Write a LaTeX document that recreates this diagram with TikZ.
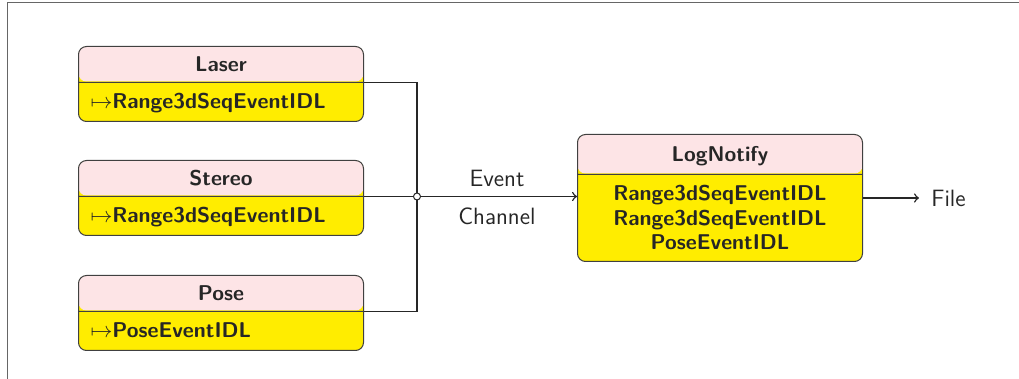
\documentclass[tikz,border=0pt]{standalone}
\renewcommand{\familydefault}{\sfdefault}
\usetikzlibrary{shapes.multipart,positioning}

\definecolor{titlepink}{RGB}{253,228,230}
\definecolor{portyellow}{RGB}{255,237,0}

\newcommand{\boxfont}{\fontsize{10.7}{12.25}\selectfont\bfseries}
\newcommand{\labelfont}{\fontsize{11.8}{14}\selectfont}
% struts for the two parts of a component box
\newcommand{\hd}[1]{\rule[-5pt]{0pt}{17.5pt}#1}
\newcommand{\pl}[1]{\rule[-6pt]{0pt}{19pt}$\mapsto$#1}

\tikzset{
  % #1 = height of the title part
  comp/.style={rectangle split, rectangle split parts=2, draw=black!75, line width=0.5pt,
    rounded corners=4pt, fill=portyellow,
    path picture={\fill[titlepink] (path picture bounding box.north west)
      rectangle ([yshift=-#1]path picture bounding box.north east);},
    rectangle split part align={center,left}, minimum width=142.5pt,
    inner ysep=0pt, inner xsep=6pt, anchor=north west, font=\boxfont},
  comp/.default=17.5pt,
  junction/.style={circle, draw=black!85, fill=white, line width=0.5pt, inner sep=0pt, minimum size=3.5pt},
  wire/.style={line width=0.75pt, draw=black!85},
}

\begin{document}
\begin{tikzpicture}[x=0.5pt,y=-0.5pt,every node/.append style={text=black!85},font=\labelfont]
  \useasboundingbox (0,0) rectangle (1019,379);
  \draw[black!60] (1019,2) -- (7,2) -- (7,379);

  \node[comp] (laser)  at (78,46)  {\hd{Laser}\nodepart{two}\pl{Range3dSeqEventIDL}};
  \node[comp] (stereo) at (78,160) {\hd{Stereo}\nodepart{two}\pl{Range3dSeqEventIDL}};
  \node[comp] (pose)   at (78,275) {\hd{Pose}\nodepart{two}\pl{PoseEventIDL}};

  \node[comp=19.5pt, rectangle split part align={center,center}] (log) at (577,134)
    {\rule[-6.3pt]{0pt}{19.5pt}LogNotify\nodepart{two}\rule[-30pt]{0pt}{43pt}%
     \begin{tabular}[t]{@{}c@{}}Range3dSeqEventIDL\\Range3dSeqEventIDL\\PoseEventIDL\end{tabular}};

  \coordinate (junc) at (stereo.one split east -| 417,0);
  \draw[wire] (laser.one split east) -| (junc);
  \draw[wire] (pose.one split east) -| (junc);
  \draw[wire] (stereo.one split east) -- (junc);
  \draw[wire,->] (junc) -- (log.west |- junc)
    node[midway,above=1pt] {Event}
    node[midway,below=2pt] {Channel};
  \node[junction] (dot) at (junc) {};

  \node[right=28pt of log, inner xsep=6pt] (file) {File};
  \draw[wire,->] (log) -- (file);
\end{tikzpicture}
\end{document}
